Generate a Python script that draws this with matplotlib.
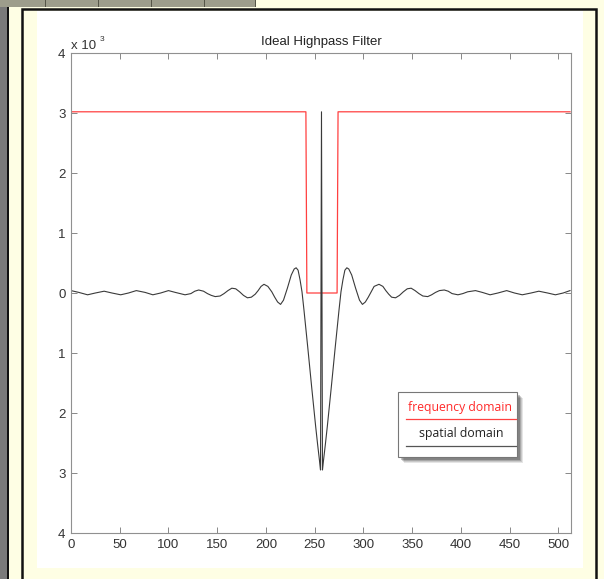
import numpy as np
import matplotlib.pyplot as plt
from matplotlib.patches import Rectangle

# frequency domain (ideal highpass), values in units of 1e-3
freq_x = [0, 241, 242, 273, 274, 512]
freq_y = [3.02, 3.02, 0.0, 0.0, 3.02, 3.02]

# spatial domain response (units of 1e-3)
spat_x = [0, 8, 17, 25, 34, 42, 51, 59, 67, 76, 84, 92, 100, 107, 112, 117,
          123, 127, 131, 136, 140, 144, 148, 153, 157, 161, 165, 169, 173,
          177, 181, 185, 189, 192, 195, 198, 202, 206, 209, 212, 215, 218,
          222, 226, 229, 231, 233, 235, 237, 239, 241, 243, 245, 247, 249,
          251, 253, 255, 256, 257, 258, 259, 261, 263, 265, 267, 269, 271,
          273, 275, 277, 279, 281, 283, 285, 288, 292, 296, 299, 302, 305,
          308, 311, 316, 320, 323, 326, 329, 333, 337, 341, 345, 349, 353,
          357, 361, 366, 370, 374, 378, 383, 387, 391, 397, 402, 407, 415,
          422, 430, 438, 447, 455, 463, 472, 480, 489, 497, 505, 512]
spat_y = [0.04, 0.01, -0.03, 0.0, 0.03, 0.0, -0.03, 0.0, 0.04, 0.01, -0.03,
          0.0, 0.04, 0.01, -0.01, -0.03, -0.01, 0.03, 0.05, 0.03, -0.01,
          -0.04, -0.06, -0.05, -0.01, 0.04, 0.08, 0.07, 0.02, -0.04, -0.08,
          -0.07, -0.02, 0.04, 0.11, 0.145, 0.11, 0.02, -0.07, -0.15, -0.19,
          -0.12, 0.08, 0.30, 0.40, 0.42, 0.38, 0.22, 0.02, -0.28, -0.60,
          -0.92, -1.25, -1.58, -1.90, -2.22, -2.52, -2.80, -2.95, 3.02,
          -2.95, -2.80, -2.52, -2.22, -1.90, -1.58, -1.25, -0.92, -0.60,
          -0.28, 0.02, 0.22, 0.38, 0.42, 0.40, 0.30, 0.08, -0.12, -0.19,
          -0.15, -0.07, 0.02, 0.11, 0.145, 0.11, 0.04, -0.02, -0.07, -0.08,
          -0.04, 0.02, 0.07, 0.08, 0.04, -0.01, -0.05, -0.06, -0.03, 0.01,
          0.04, 0.05, 0.03, -0.01, -0.03, -0.01, 0.02, 0.04, 0.01, -0.03,
          0.0, 0.04, 0.0, -0.03, 0.0, 0.03, 0.0, -0.03, 0.0, 0.04]

x_ticks = [0, 50, 100, 150, 200, 250, 300, 350, 400, 450, 500]
y_ticks = [-4, -3, -2, -1, 0, 1, 2, 3, 4]
y_labels = ['4', '3', '2', '1', '0', '1', '2', '3', '4']

W, H = 604, 579
fig = plt.figure(figsize=(W / 100, H / 100), dpi=100)
fig.patch.set_facecolor('#fefee4')


def fx(x):
    return x / W


def fy(y):
    return 1 - y / H


def box(x0, y0, x1, y1, z=-1, **kw):
    # rectangle given in pixel coords (top-left origin)
    r = Rectangle((fx(x0), fy(y1)), fx(x1) - fx(x0), fy(y0) - fy(y1),
                  transform=fig.transFigure, zorder=z, **kw)
    fig.add_artist(r)
    return r


# slide decoration around the plot
box(0, 0, 8, H, facecolor='#7a7a7a', edgecolor='none')
box(7.5, 0, 9, H, facecolor='#111111', edgecolor='none')
box(0, 0, 255, 7, facecolor='#9d9d8c', edgecolor='none')
for sx in [45, 98, 151, 204, 255]:
    box(sx, 0, sx + 1, 7, facecolor='#555548', edgecolor='none')
box(22, 8.5, 596, H + 5, facecolor='none', edgecolor='#111111', lw=1.8)
box(37, 11, 583, 568, z=-0.5, facecolor='white', edgecolor='none')

plt.rcParams['font.family'] = ['Liberation Sans Narrow', 'DejaVu Sans Condensed',
                               'Liberation Sans', 'DejaVu Sans']

ax = fig.add_axes([fx(71), fy(533), fx(571) - fx(71), fy(53) - fy(533)])
ax.set_facecolor('white')
ax.plot(freq_x, freq_y, color='#ff4040', lw=0.9)
ax.plot(spat_x, spat_y, color='#3a3a3a', lw=0.8)

ax.set_xlim(0, 513)
ax.set_ylim(-4, 4)
ax.set_xticks(x_ticks)
ax.set_yticks(y_ticks)
ax.set_yticklabels(y_labels)
ax.tick_params(direction='in', length=4, width=0.7, colors='#888888',
               labelcolor='#333333', labelsize=9.5, top=True, right=True, pad=4)
for s in ax.spines.values():
    s.set_color('#909090')
    s.set_linewidth(0.8)

ax.set_title('Ideal Highpass Filter', fontsize=9.5, color='#222222', pad=6)
ax.text(0, 1.002, 'x 10', transform=ax.transAxes, fontsize=9.5,
        color='#333333', va='bottom', ha='left')
ax.text(0.058, 1.02, '3', transform=ax.transAxes, fontsize=6,
        color='#333333', va='bottom', ha='left')

# legend box with drop shadow
for i, a in enumerate([0.10, 0.12, 0.16, 0.22]):
    off = 6 - i
    box(398 + off, 392 + off, 517 + off, 457 + off, z=5, facecolor='#000000',
        alpha=a, edgecolor='none')
box(398, 392, 517, 457, z=6, facecolor='white', edgecolor='#777777', lw=0.8)
fig.text(fx(460), fy(407), 'frequency domain', color='#ff2a2a', fontsize=8.8,
         family=['Open Sans', 'DejaVu Sans'], ha='center', va='center', zorder=7)
fig.add_artist(plt.Line2D([fx(406), fx(516)], [fy(419), fy(419)], zorder=7,
                          color='#ff4040', lw=0.9, transform=fig.transFigure))
fig.text(fx(461), fy(434), 'spatial domain', color='#222222', fontsize=8.8,
         family=['Open Sans', 'DejaVu Sans'], ha='center', va='center', zorder=7)
fig.add_artist(plt.Line2D([fx(406), fx(516)], [fy(446), fy(446)], zorder=7,
                          color='#555555', lw=0.9, transform=fig.transFigure))

plt.savefig('out.png', dpi=100, facecolor=fig.get_facecolor())
plt.close()
